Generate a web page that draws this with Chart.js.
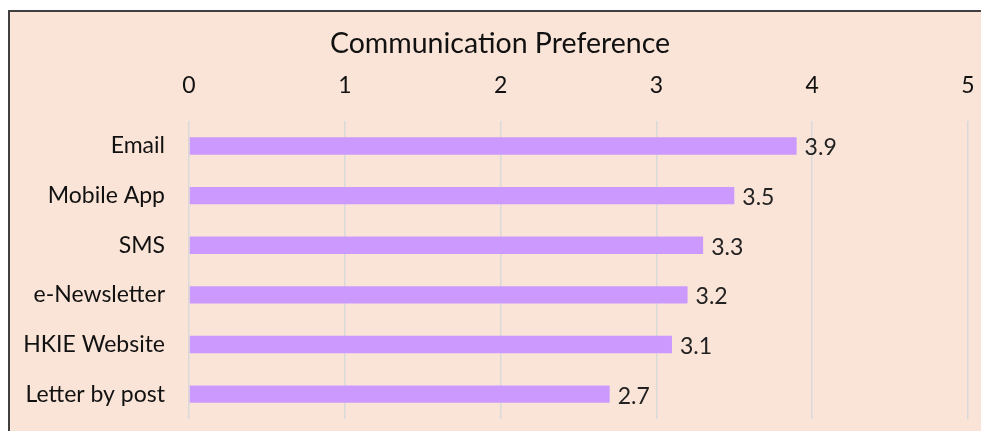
<!DOCTYPE html>
<html>
<head>
<meta charset="utf-8">
<script src="https://cdn.jsdelivr.net/npm/chart.js@4"></script>
<style>
  html, body { margin: 0; padding: 0; background: #fff; overflow: hidden; }
  #box {
    position: absolute; left: 8px; top: 10px;
    width: 990px; height: 440px;
    border: 2px solid #404040;
    background: #FAE4D7;
  }
  #grafico { display: block; }
</style>
</head>
<body>
<div id="box"><canvas id="grafico" width="990" height="440"></canvas></div>
<script>
const categorias = ['Email', 'Mobile App', 'SMS', 'e-Newsletter', 'HKIE Website', 'Letter by post'];
const valores = [3.9, 3.5, 3.3, 3.2, 3.1, 2.7];
const marcas = [0, 1, 2, 3, 4, 5];

const fuente = 'Lato, "Open Sans", sans-serif';

// etiquetas de valor al final de cada barra
const etiquetas = {
  id: 'etiquetas',
  afterDatasetsDraw(chart) {
    const ctx = chart.ctx;
    const meta = chart.getDatasetMeta(0);
    ctx.save();
    ctx.font = '23px ' + fuente;
    ctx.fillStyle = '#222';
    ctx.textAlign = 'left';
    ctx.textBaseline = 'middle';
    meta.data.forEach((bar, i) => {
      ctx.fillText(valores[i].toFixed(1), bar.x + 8, bar.y + 2);
    });
    ctx.restore();
  }
};

const ctx = document.getElementById('grafico').getContext('2d');
new Chart(ctx, {
  type: 'bar',
  data: {
    labels: categorias,
    datasets: [{
      data: valores,
      backgroundColor: '#CC99FF',
      borderWidth: 0,
      categoryPercentage: 1,
      barPercentage: 0.35
    }]
  },
  options: {
    indexAxis: 'y',
    responsive: false,
    animation: false,
    layout: { padding: { left: 0, right: 10, top: 0, bottom: 33 } },
    plugins: {
      legend: { display: false },
      tooltip: { enabled: false },
      title: {
        display: true,
        text: 'Communication Preference',
        color: '#111',
        font: { family: fuente, size: 28.5, weight: 'normal', lineHeight: 1.2 },
        padding: { top: 15, bottom: 0 }
      }
    },
    scales: {
      x: {
        position: 'top',
        min: 0,
        max: 5,
        afterBuildTicks(axis) { axis.ticks = marcas.map(v => ({ value: v })); },
        afterFit(axis) {
          axis.height = 60;
          axis.paddingLeft = 0;
          axis.paddingRight = 32;
        },
        grid: { color: '#D9D9D9', lineWidth: 1.5, drawTicks: false },
        border: { display: false },
        ticks: { color: '#111', padding: 22, font: { family: fuente, size: 23 } }
      },
      y: {
        afterFit(axis) {
          axis.width = 179;
          axis.paddingTop = 0;
          axis.paddingBottom = 0;
        },
        grid: { display: false, drawTicks: false },
        border: { display: false },
        ticks: { color: '#111', padding: 24, font: { family: fuente, size: 23 } }
      }
    }
  },
  plugins: [etiquetas]
});
</script>
</body>
</html>
